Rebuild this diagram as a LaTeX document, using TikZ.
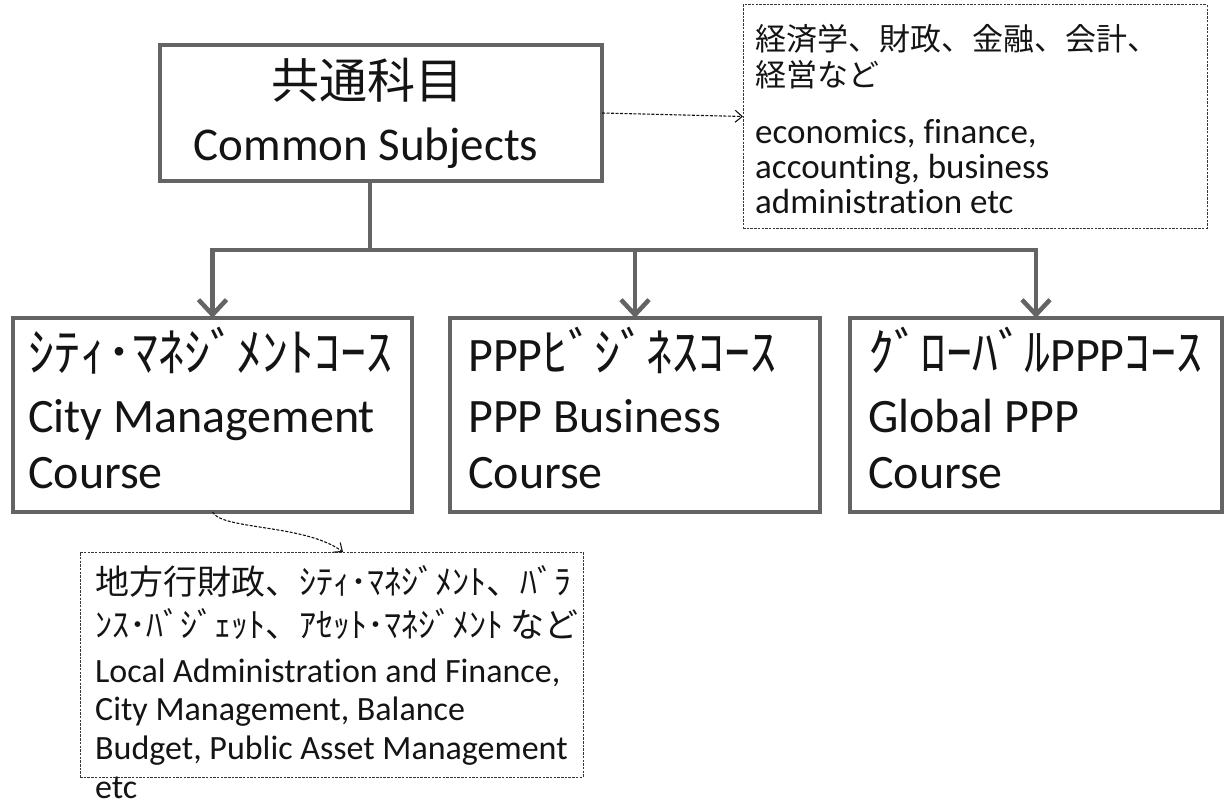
\documentclass[tikz,border=0pt]{standalone}
\usepackage{fontspec}
\setmainfont{Carlito}[Ligatures=NoCommon]
\newfontfamily\jp{Noto Sans CJK JP}
\usetikzlibrary{arrows.meta,calc}
\definecolor{boxgray}{RGB}{100,100,100}
\definecolor{ink}{RGB}{20,20,20}
\begin{document}
\begin{tikzpicture}[x=1pt,y=-1pt,
  thickbox/.style={draw=boxgray, line width=4pt, inner sep=0pt, outer sep=0pt},
  notebox/.style={draw=ink!85, line width=1pt, dash pattern=on 2.5pt off 1.2pt, inner sep=0pt, outer sep=0pt},
  ln/.style={anchor=base west, inner sep=0pt, text=ink},
  ctr/.style={anchor=base, inner sep=0pt, text=ink},
  conn/.style={draw=boxgray, line width=4.5pt},
  arr/.style={conn, -{Straight Barb[length=15pt,width=28pt]}},
  dconn/.style={draw=ink, line width=1.1pt, dash pattern=on 3pt off 1.5pt, -{Straight Barb[length=7pt,width=12pt]}},
]
\fill[white] (0,0) rectangle (1227,808);
\useasboundingbox (0,0) rectangle (1227,808);

% boxes
\node[thickbox, minimum width=442pt, minimum height=136pt] (common) at (381,113) {};
\node[notebox, minimum width=464pt, minimum height=223pt] (notes1) at (975,116.5) {};
\node[thickbox, minimum width=399pt, minimum height=194pt] (c1) at (212.5,415) {};
\node[thickbox, minimum width=370pt, minimum height=194pt] (c2) at (635,415) {};
\node[thickbox, minimum width=372pt, minimum height=194pt] (c3) at (1036,415) {};
\node[notebox, minimum width=503pt, minimum height=225pt] (notes2) at (331.5,664.5) {};

% connectors
\coordinate (bus) at (0,250);
\coordinate (drop) at (370,0);
\draw[arr] (common.south -| drop) |- (c1.north |- bus) -- (c1.north);
\draw[arr] (common.south -| drop) |- (c3.north |- bus) -- (c3.north);
\draw[arr] (c2.north |- bus) -- (c2.north);
\draw[dconn] (common.east) -- (notes1.west);
\draw[dconn] (c1.south) .. controls (222,530) and (305,524) .. ($(notes2.north)+(11.5,0)$);

% common subjects text
\node[ctr] (tcj) at (367,99) {\jp\fontsize{48}{48}\selectfont 共通科目};
\node[ctr] (tce) at (366,160) {\fontsize{47}{47}\selectfont Common Subjects};

% notes 1 text
\node[ln] (n1a) at (755,51) {\jp\fontsize{31}{31}\selectfont 経済学、財政、金融、会計、};
\node[ln] (n1b) at (755,86) {\jp\fontsize{31}{31}\selectfont 経営など};
\node[ln] (n1c) at (755,143) {\fontsize{35}{35}\selectfont economics, finance,};
\node[ln] (n1d) at (755,178) {\fontsize{35}{35}\selectfont accounting, business};
\node[ln] (n1e) at (755,213) {\fontsize{35}{35}\selectfont administration etc};

% course 1
\node[ln] (c1a) at (28,371) {\jp\fontsize{52}{52}\selectfont ｼﾃｨ･ﾏﾈｼﾞﾒﾝﾄｺｰｽ};
\node[ln] (c1b) at (28,432) {\fontsize{48}{48}\selectfont City Management};
\node[ln] (c1c) at (28,488) {\fontsize{48}{48}\selectfont Course};
% course 2
\node[ln] (c2a) at (468,371) {\fontsize{48}{48}\selectfont PPP{\jp\fontsize{52}{52}\selectfont ﾋﾞｼﾞﾈｽｺｰｽ}};
\node[ln] (c2b) at (468,432) {\fontsize{48}{48}\selectfont PPP Business};
\node[ln] (c2c) at (468,488) {\fontsize{48}{48}\selectfont Course};
% course 3
\node[ln] (c3a) at (868,371) {\fontsize{48}{48}\selectfont {\jp\fontsize{52}{52}\selectfont ｸﾞﾛｰﾊﾞﾙ}PPP{\jp\fontsize{52}{52}\selectfont ｺｰｽ}};
\node[ln] (c3b) at (868,432) {\fontsize{48}{48}\selectfont Global PPP};
\node[ln] (c3c) at (868,488) {\fontsize{48}{48}\selectfont Course};

% notes 2 text
\node[ln] (n2a) at (95,594) {\jp\fontsize{34}{34}\selectfont 地方行財政、ｼﾃｨ･ﾏﾈｼﾞﾒﾝﾄ、ﾊﾞﾗ};
\node[ln] (n2b) at (95,637) {\jp\fontsize{34}{34}\selectfont ﾝｽ･ﾊﾞｼﾞｪｯﾄ、ｱｾｯﾄ･ﾏﾈｼﾞﾒﾝﾄ など};
\node[ln] (n2c) at (95,682) {\fontsize{34}{34}\selectfont Local Administration and Finance,};
\node[ln] (n2d) at (95,720) {\fontsize{34}{34}\selectfont City Management, Balance};
\node[ln] (n2e) at (95,759) {\fontsize{34}{34}\selectfont Budget, Public Asset Management};
\node[ln] (n2f) at (95,798) {\fontsize{34}{34}\selectfont etc};
\end{tikzpicture}
\end{document}
